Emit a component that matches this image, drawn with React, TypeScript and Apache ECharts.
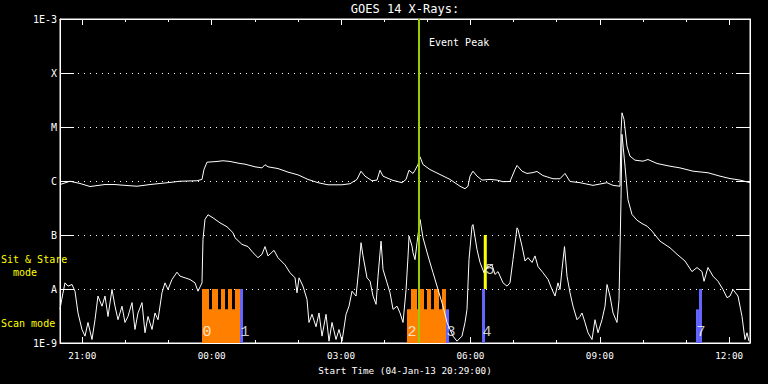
import React, { useEffect, useRef } from "react";
import * as echarts from "echarts";

// x values: hours relative to 00:00 on 05-Jan-13 (start 20:29 on 04-Jan-13)
const TIME_START = -3.5167;
const TIME_END = 12.4833;
const xMajor = [-3, 0, 3, 6, 9, 12];
const xTickLabels = ["21:00", "00:00", "03:00", "06:00", "09:00", "12:00"];
const xMinor = [-3, -2, -1, 0, 1, 2, 3, 4, 5, 6, 7, 8, 9, 10, 11, 12];
const yTickLabels = ["1E-9", "A", "B", "C", "M", "X", "1E-3"];

// GOES long channel (1-8 A), W/m^2
const longChannel: [number, number][] = [
  [-3.517, 8.6e-7], [-3.285, 9.9e-7], [-3.053, 9.0e-7], [-2.821, 7.9e-7], [-2.473, 8.6e-7],
  [-2.241, 8.6e-7], [-2.01, 8.3e-7], [-1.731, 8.0e-7], [-1.43, 8.6e-7], [-1.198, 9.0e-7],
  [-0.966, 9.4e-7], [-0.734, 9.9e-7], [-0.34, 1.01e-6], [-0.224, 1.07e-6], [-0.178, 1.63e-6],
  [-0.108, 2.23e-6], [0.124, 2.3e-6], [0.263, 2.37e-6], [0.425, 2.3e-6], [0.657, 2.11e-6],
  [0.773, 2.05e-6], [1.005, 1.83e-6], [1.167, 1.75e-6], [1.237, 2.0e-6], [1.307, 1.83e-6],
  [1.538, 1.7e-6], [1.77, 1.46e-6], [2.002, 1.3e-6], [2.234, 1.07e-6], [2.466, 9.3e-7],
  [2.698, 8.5e-7], [3.022, 8.5e-7], [3.208, 8.9e-7], [3.37, 1.07e-6], [3.463, 1.52e-6],
  [3.556, 1.23e-6], [3.718, 1.01e-6], [3.834, 1.04e-6], [3.904, 1.58e-6], [3.973, 1.23e-6],
  [4.182, 1.04e-6], [4.414, 9.3e-7], [4.507, 1.07e-6], [4.576, 1.58e-6], [4.669, 1.38e-6],
  [4.715, 1.58e-6], [4.785, 2.02e-6], [4.831, 2.81e-6], [4.901, 2.02e-6], [5.063, 1.63e-6],
  [5.295, 1.32e-6], [5.527, 1.07e-6], [5.759, 8.0e-7], [5.875, 7.2e-7], [5.944, 8.0e-7],
  [5.991, 1.23e-6], [6.06, 1.52e-6], [6.153, 1.23e-6], [6.269, 1.04e-6], [6.454, 1.07e-6],
  [6.617, 1.04e-6], [6.756, 9.7e-7], [6.918, 9.8e-7], [7.034, 1.63e-6], [7.081, 1.94e-6],
  [7.197, 1.52e-6], [7.313, 1.38e-6], [7.428, 1.42e-6], [7.544, 1.5e-6], [7.683, 1.26e-6],
  [7.915, 1.1e-6], [8.077, 1.1e-6], [8.193, 1.38e-6], [8.309, 9.8e-7], [8.541, 9.3e-7],
  [8.843, 8.3e-7], [9.167, 9.3e-7], [9.306, 8.3e-7], [9.469, 8.0e-7], [9.492, 7.9e-6],
  [9.515, 1.83e-5], [9.562, 1.38e-5], [9.631, 4.4e-6], [9.701, 2.88e-6], [9.817, 2.43e-6],
  [10.002, 2.33e-6], [10.118, 2.5e-6], [10.327, 2.11e-6], [10.628, 1.88e-6], [10.86, 1.75e-6],
  [11.162, 1.52e-6], [11.51, 1.42e-6], [11.788, 1.23e-6], [12.02, 1.11e-6], [12.252, 1.04e-6],
  [12.484, 9.3e-7],
];

// GOES short channel (0.5-4 A), W/m^2
const shortChannel: [number, number][] = [
  [-3.517, 4.2e-9], [-3.477, 6.4e-9], [-3.401, 1.3e-8], [-3.331, 1.13e-8], [-3.238, 1.21e-8],
  [-3.169, 9.1e-9], [-3.099, 3.6e-9], [-3.007, 1.78e-9], [-2.937, 1.34e-9], [-2.868, 2.4e-9],
  [-2.775, 1.16e-9], [-2.705, 2.7e-9], [-2.636, 7.4e-9], [-2.543, 4.8e-9], [-2.473, 7.4e-9],
  [-2.404, 3.1e-9], [-2.311, 9.8e-9], [-2.241, 4.8e-9], [-2.172, 2.7e-9], [-2.079, 4.8e-9],
  [-2.01, 2.4e-9], [-1.94, 3.1e-9], [-1.847, 5.6e-9], [-1.778, 1.78e-9], [-1.708, 3.6e-9],
  [-1.615, 5.6e-9], [-1.546, 1.55e-9], [-1.476, 3.1e-9], [-1.383, 1.78e-9], [-1.314, 3.6e-9],
  [-1.244, 2.7e-9], [-1.152, 8.5e-9], [-1.082, 1.3e-8], [-1.012, 9.8e-9], [-0.92, 1.5e-8],
  [-0.804, 2.05e-8], [-0.734, 1.73e-8], [-0.618, 1.61e-8], [-0.502, 1.5e-8], [-0.386, 1.3e-8],
  [-0.317, 9.1e-9], [-0.224, 1.3e-8], [-0.201, 8.3e-8], [-0.155, 1.94e-7], [-0.085, 2.37e-7],
  [0.031, 2.08e-7], [0.193, 1.68e-7], [0.356, 1.42e-7], [0.495, 1.1e-7], [0.541, 8.9e-8],
  [0.703, 6.7e-8], [0.843, 6.1e-8], [0.959, 4.7e-8], [1.075, 3.8e-8], [1.167, 4.4e-8],
  [1.237, 6.1e-8], [1.307, 4.1e-8], [1.446, 5.2e-8], [1.538, 3.8e-8], [1.701, 2.8e-8],
  [1.817, 2.0e-8], [1.933, 1.61e-8], [1.979, 8.5e-9], [2.026, 1.61e-8], [2.118, 1.13e-8],
  [2.211, 6.4e-9], [2.257, 2.4e-9], [2.327, 3.4e-9], [2.42, 2.0e-9], [2.489, 3.6e-9],
  [2.559, 1.34e-9], [2.652, 3.4e-9], [2.721, 1.08e-9], [2.791, 2.4e-9], [2.884, 1.16e-9],
  [2.953, 1.78e-9], [3.023, 1.08e-9], [3.116, 3.4e-9], [3.185, 4.8e-9], [3.255, 9.1e-9],
  [3.348, 7.4e-9], [3.417, 2.6e-8], [3.464, 7.2e-8], [3.51, 4.1e-8], [3.603, 1.61e-8],
  [3.673, 1.39e-8], [3.742, 7.4e-9], [3.812, 5.2e-9], [3.858, 1.73e-8], [3.928, 7.7e-8],
  [3.974, 2.3e-8], [4.067, 1.3e-8], [4.136, 8.5e-9], [4.206, 4.2e-9], [4.299, 4.8e-9],
  [4.368, 3.6e-9], [4.438, 2.4e-9], [4.508, 9.8e-9], [4.554, 4.1e-8], [4.577, 9.5e-8],
  [4.646, 6.2e-8], [4.669, 4.7e-8], [4.716, 3.5e-8], [4.762, 7.2e-8], [4.832, 1.94e-7],
  [4.901, 8.9e-8], [5.017, 4.1e-8], [5.133, 2.0e-8], [5.249, 9.8e-9], [5.365, 4.8e-9],
  [5.457, 2.4e-9], [5.527, 1.78e-9], [5.596, 1.34e-9], [5.689, 1.08e-9], [5.805, 1.34e-9],
  [5.875, 2.4e-9], [5.921, 4.2e-9], [5.967, 3.5e-8], [6.037, 1.46e-7], [6.06, 1.56e-7],
  [6.153, 5.4e-8], [6.223, 3.1e-8], [6.315, 2.0e-8], [6.385, 2.5e-8], [6.501, 2.8e-8],
  [6.57, 1.86e-8], [6.64, 2.1e-8], [6.756, 1.3e-8], [6.849, 1.13e-8], [6.918, 1.3e-8],
  [6.988, 3.5e-8], [7.081, 1.36e-7], [7.104, 1.26e-7], [7.197, 6.2e-8], [7.267, 3.3e-8],
  [7.336, 3.8e-8], [7.429, 3.1e-8], [7.498, 4.1e-8], [7.568, 2.6e-8], [7.684, 2.0e-8],
  [7.8, 1.5e-8], [7.892, 9.8e-9], [7.962, 7.4e-9], [8.031, 1.3e-8], [8.078, 9.8e-9],
  [8.124, 2.3e-8], [8.182, 6.1e-8], [8.24, 1.73e-8], [8.31, 8.5e-9], [8.379, 4.8e-9],
  [8.472, 2.7e-9], [8.541, 3.1e-9], [8.588, 3.6e-9], [8.657, 2.4e-9], [8.727, 1.55e-9],
  [8.82, 1.16e-9], [8.889, 2.7e-9], [8.959, 1.55e-9], [9.052, 2.7e-9], [9.121, 4.8e-9],
  [9.168, 1.21e-8], [9.237, 7.4e-9], [9.307, 3.6e-9], [9.399, 2.4e-9], [9.446, 6.4e-9],
  [9.492, 4.5e-7], [9.515, 7.3e-6], [9.585, 1.88e-6], [9.654, 4.5e-7], [9.747, 2.4e-7],
  [9.863, 1.88e-7], [9.979, 1.63e-7], [10.095, 1.46e-7], [10.211, 1.18e-7], [10.396, 7.7e-8],
  [10.628, 5.8e-8], [10.791, 4.4e-8], [10.976, 3.3e-8], [11.138, 2.1e-8], [11.254, 2.5e-8],
  [11.37, 2.1e-8], [11.417, 1.39e-8], [11.509, 2.5e-8], [11.625, 1.73e-8], [11.741, 1.39e-8],
  [11.857, 9.8e-9], [11.95, 6.9e-9], [12.019, 7.4e-9], [12.089, 9.8e-9], [12.205, 7.4e-9],
  [12.298, 3.1e-9], [12.367, 1.16e-9], [12.414, 1.55e-9], [12.46, 1.08e-9],
];

// Scan-mode blocks: [start, end, top flux]
const scanBase: [number, number, number][] = [
  [-0.224, 0.657, 4.2e-9],
  [4.529, 5.433, 4.2e-9],
];
const scanTall: [number, number, number][] = [
  [-0.224, -0.062, 1e-8], [0.008, 0.147, 1e-8], [0.217, 0.309, 1e-8], [0.379, 0.472, 1e-8], [0.541, 0.657, 1e-8],
  [4.622, 4.762, 1e-8], [4.808, 4.924, 1e-8], [4.994, 5.087, 1e-8], [5.156, 5.272, 1e-8], [5.341, 5.433, 1e-8],
];
const dwellBlocks: [number, number, number][] = [
  [0.657, 0.727, 1e-8],
  [5.433, 5.503, 4.2e-9],
  [6.269, 6.339, 1e-8],
  [11.23, 11.3, 4.2e-9],
  [11.3, 11.37, 1e-8],
];
// Sit & stare: [start, end, bottom flux, top flux]
const sitStareBlocks: [number, number, number, number][] = [[6.31, 6.38, 1e-8, 1e-7]];

const eventPeakTime = 4.808;

// Pointing labels: [time, flux, text]
const pointingLabels: [number, number, string][] = [
  [-0.108, 1.55e-9, "0"],
  [0.773, 1.55e-9, "1"],
  [4.646, 1.55e-9, "2"],
  [5.55, 1.55e-9, "3"],
  [6.385, 1.55e-9, "4"],
  [6.455, 2.2e-8, "5"],
  [11.347, 1.55e-9, "7"],
];

const MONO = "'DejaVu Sans Mono', 'Liberation Mono', monospace";

export default function App() {
  const ref = useRef<HTMLDivElement>(null);
  useEffect(() => {
    if (!ref.current) return;
    const chart = echarts.init(ref.current, null, { renderer: "svg" });

    const rect = (t0: number, t1: number, y0: number, y1: number, color: string) => [
      { xAxis: t0, yAxis: y0, itemStyle: { color, opacity: 1, borderWidth: 0 } },
      { xAxis: t1, yAxis: y1 },
    ];
    const areas = [
      ...scanBase.map((b) => rect(b[0], b[1], 1e-9, b[2], "#ff8000")),
      ...scanTall.map((b) => rect(b[0], b[1], 1e-9, b[2], "#ff8000")),
      ...dwellBlocks.map((b) => rect(b[0], b[1], 1e-9, b[2], "#6464ff")),
      ...sitStareBlocks.map((b) => rect(b[0], b[1], b[2], b[3], "#ffff00")),
    ];

    const xBase = {
      type: "value" as const,
      min: TIME_START,
      max: TIME_END,
      splitLine: { show: false },
    };
    const labelFmt = (v: number) => {
      const i = xMajor.indexOf(Math.round(v));
      return i >= 0 ? xTickLabels[i] : "";
    };

    chart.setOption({
      animation: false,
      backgroundColor: "#000",
      grid: {
        left: 60,
        top: 19,
        width: 690,
        height: 324,
        show: true,
        borderColor: "#fff",
        borderWidth: 1,
        backgroundColor: "transparent",
      },
      graphic: [
        {
          type: "text",
          x: 405,
          y: 3,
          style: { text: "GOES 14 X-Rays:", fill: "#fff", font: `12px ${MONO}`, textAlign: "center" },
        },
        {
          type: "text",
          x: 429,
          y: 37,
          style: { text: "Event Peak", fill: "#fff", font: `10px ${MONO}` },
        },
        {
          type: "text",
          x: 1,
          y: 253,
          style: { text: "Sit & Stare\n  mode", fill: "#ffff00", font: `10px ${MONO}`, lineHeight: 13 },
        },
        {
          type: "text",
          x: 1,
          y: 318,
          style: { text: "Scan mode", fill: "#ffff00", font: `10px ${MONO}` },
        },
      ],
      xAxis: [
        {
          ...xBase,
          position: "bottom",
          name: "Start Time (04-Jan-13 20:29:00)",
          nameLocation: "middle",
          nameGap: 23,
          nameTextStyle: { color: "#fff", fontFamily: MONO, fontSize: 9.3 },
          axisLine: { show: true, onZero: false, lineStyle: { color: "#fff", width: 1 } },
          axisTick: { show: true, inside: true, length: 6, customValues: xMajor, lineStyle: { color: "#fff" } },
          axisLabel: {
            show: true,
            customValues: xMajor,
            formatter: labelFmt,
            color: "#fff",
            fontFamily: MONO,
            fontSize: 9.3,
            margin: 8,
          },
        },
        {
          ...xBase,
          position: "bottom",
          axisLine: { show: false, onZero: false },
          axisTick: { show: true, inside: true, length: 3, customValues: xMinor, lineStyle: { color: "#fff" } },
          axisLabel: { show: false },
        },
        {
          ...xBase,
          position: "top",
          axisLine: { show: true, onZero: false, lineStyle: { color: "#fff", width: 1 } },
          axisTick: { show: true, inside: true, length: 6, customValues: xMajor, lineStyle: { color: "#fff" } },
          axisLabel: { show: false },
        },
        {
          ...xBase,
          position: "top",
          axisLine: { show: false, onZero: false },
          axisTick: { show: true, inside: true, length: 3, customValues: xMinor, lineStyle: { color: "#fff" } },
          axisLabel: { show: false },
        },
      ],
      yAxis: [
        {
          type: "log",
          logBase: 10,
          min: 1e-9,
          max: 1e-3,
          interval: 1,
          position: "left",
          axisLine: { show: true, onZero: false, lineStyle: { color: "#fff" } },
          axisTick: { show: true, inside: true, length: 14, lineStyle: { color: "#fff" } },
          axisLabel: {
            color: "#fff",
            fontFamily: MONO,
            fontSize: 10,
            margin: 3,
            formatter: (v: number) => {
              const i = Math.round(Math.log10(v)) + 9;
              return yTickLabels[i] ?? "";
            },
          },
          splitLine: { show: true, lineStyle: { color: "#fff", type: [1, 5], width: 1 } },
        },
        {
          type: "log",
          logBase: 10,
          min: 1e-9,
          max: 1e-3,
          interval: 1,
          position: "right",
          axisLine: { show: true, onZero: false, lineStyle: { color: "#fff" } },
          axisTick: { show: true, inside: true, length: 14, lineStyle: { color: "#fff" } },
          axisLabel: { show: false },
          splitLine: { show: false },
        },
      ],
      series: [
        {
          type: "line",
          data: [],
          z: 1,
          silent: true,
          markArea: { silent: true, data: areas },
        },
        {
          type: "line",
          name: "long",
          data: longChannel,
          z: 2,
          showSymbol: false,
          lineStyle: { color: "#fff", width: 1 },
          itemStyle: { color: "#fff" },
        },
        {
          type: "line",
          name: "short",
          data: shortChannel,
          z: 2,
          showSymbol: false,
          lineStyle: { color: "#fff", width: 1 },
          itemStyle: { color: "#fff" },
        },
        {
          type: "line",
          data: [],
          z: 3,
          markLine: {
            silent: true,
            symbol: ["none", "none"],
            label: { show: false },
            lineStyle: { color: "#99cc00", width: 2, type: "solid" },
            data: [{ xAxis: eventPeakTime }],
          },
        },
        {
          type: "scatter",
          z: 4,
          data: pointingLabels,
          symbolSize: 1,
          itemStyle: { color: "rgba(0,0,0,0)" },
          label: {
            show: true,
            position: "inside",
            formatter: (p: any) => p.data[2],
            color: "#fff",
            fontFamily: "'Liberation Mono', monospace",
            fontSize: 15,
          },
        },
      ],
    });
    return () => chart.dispose();
  }, []);
  return (
    <div
      ref={ref}
      style={{ position: "fixed", left: 0, top: 0, width: 768, height: 384, background: "#000" }}
    />
  );
}
